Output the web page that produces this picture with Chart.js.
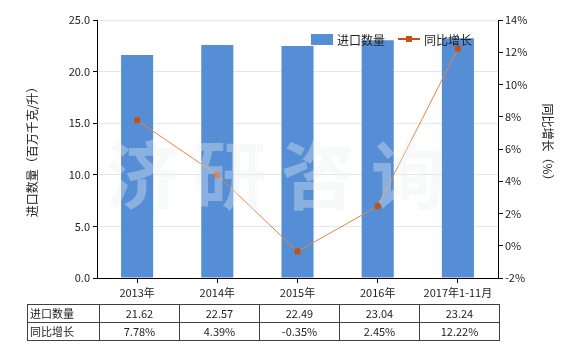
<!DOCTYPE html>
<html>
<head>
<meta charset="utf-8">
<script src="https://cdn.jsdelivr.net/npm/chart.js@4"></script>
<style>
  html, body { margin: 0; padding: 0; background: #fff; }
  #wrap { position: relative; width: 580px; height: 350px; font-family: 'Noto Sans CJK SC', sans-serif; color: #222; }
  #chart { position: absolute; left: 0; top: 0; }
  .legend { position: absolute; top: 31px; font-size: 12px; line-height: 18px; }
  .legend .box { position: absolute; top: 3px; left: 0; width: 22px; height: 11px; background: #558ed5; }
  .legend .ln { position: absolute; top: 7px; left: 0; width: 22px; height: 2px; background: #c5501a; }
  .legend .pt { position: absolute; top: 5px; left: 8px; width: 6px; height: 6px; background: #c5501a; }
  .legend span.t { position: absolute; left: 26px; white-space: nowrap; }
  #tbl { position: absolute; left: 27px; top: 304px; border-collapse: collapse; font-size: 11px; }
  #tbl td { border: 1px solid #404040; height: 17px; padding: 0; text-align: center; width: 79px; line-height: 17px; }
  #tbl td.h { width: 69px; text-align: left; padding-left: 2px; }
</style>
</head>
<body>
<div id="wrap">
  <canvas id="chart" width="580" height="350"></canvas>
  <div class="legend" style="left:311px"><div class="box"></div><span class="t">进口数量</span></div>
  <div class="legend" style="left:398px"><div class="ln"></div><div class="pt"></div><span class="t">同比增长</span></div>
  <table id="tbl"></table>
</div>
<script>
const categories = ['2013年', '2014年', '2015年', '2016年', '2017年1-11月'];
const importQty = [21.62, 22.57, 22.49, 23.04, 23.24];
const yoyGrowth = [7.78, 4.39, -0.35, 2.45, 12.22];
const seriesNames = ['进口数量', '同比增长'];
const leftTitle = '进口数量（百万千克/升）';
const rightTitle = '同比增长（%）';
const watermark = ['济', '研', '咨', '询'];

(() => {
  'use strict';

  const font = "'Noto Sans CJK SC', sans-serif";

  // table under the plot
  const tbl = document.getElementById('tbl');
  let html = '<tr><td class="h">' + seriesNames[0] + '</td>';
  importQty.forEach(v => { html += '<td>' + v.toFixed(2) + '</td>'; });
  html += '</tr><tr><td class="h">' + seriesNames[1] + '</td>';
  yoyGrowth.forEach(v => { html += '<td>' + v.toFixed(2) + '%</td>'; });
  html += '</tr>';
  tbl.innerHTML = html;

  const extras = {
    id: 'extras',
    afterDraw(chart) {
      const ctx = chart.ctx;
      const area = chart.chartArea;
      ctx.save();
      // watermark
      ctx.fillStyle = 'rgba(235,240,240,0.35)';
      ctx.font = 'bold 74px ' + font;
      ctx.textAlign = 'center';
      ctx.textBaseline = 'middle';
      const xs = [143, 230, 318, 408];
      watermark.forEach((ch, i) => ctx.fillText(ch, xs[i], 175));
      // axis titles
      ctx.fillStyle = '#222';
      ctx.font = '12px ' + font;
      ctx.translate(32, (area.top + area.bottom) / 2);
      ctx.rotate(-Math.PI / 2);
      ctx.fillText(leftTitle, 0, 0);
      ctx.restore();
      ctx.save();
      ctx.fillStyle = '#222';
      ctx.font = '12px ' + font;
      ctx.textAlign = 'center';
      ctx.textBaseline = 'middle';
      ctx.translate(548, 145);
      ctx.rotate(Math.PI / 2);
      ctx.fillText(rightTitle, 0, 0);
      ctx.restore();
    }
  };

  Chart.defaults.font.family = font;
  Chart.defaults.font.size = 11;
  Chart.defaults.color = '#222';

  new Chart(document.getElementById('chart').getContext('2d'), {
    data: {
      labels: categories,
      datasets: [
        {
          type: 'line', label: seriesNames[1], data: yoyGrowth, yAxisID: 'y1',
          borderColor: '#e8853d', borderWidth: 1, pointStyle: 'rect', pointRadius: 3.5,
          pointBackgroundColor: '#c5501a', pointBorderColor: '#c5501a', tension: 0
        },
        {
          type: 'bar', label: seriesNames[0], data: importQty, yAxisID: 'y',
          backgroundColor: '#558ed5', categoryPercentage: 1, barPercentage: 0.4
        }
      ]
    },
    options: {
      responsive: false,
      animation: false,
      layout: { padding: { top: 20, left: 0, right: 0, bottom: 0 } },
      plugins: { legend: { display: false }, tooltip: { enabled: false } },
      scales: {
        x: {
          grid: { display: true, drawOnChartArea: false, offset: false, color: '#000', tickLength: 5 },
          border: { color: '#000', width: 1 },
          ticks: { padding: 3, maxRotation: 0, autoSkip: false },
          afterFit: s => { s.height = 72; }
        },
        y: {
          position: 'left', min: 0, max: 25,
          ticks: { stepSize: 5, callback: v => v.toFixed(1), padding: 3 },
          grid: { color: '#e6e6e6', tickColor: '#000', tickLength: 4 },
          border: { color: '#000', width: 1 },
          afterFit: s => { s.width = 97; }
        },
        y1: {
          position: 'right', min: -2, max: 14,
          ticks: { stepSize: 2, callback: v => v + '%', padding: 2 },
          grid: { drawOnChartArea: false, color: '#000', tickLength: 5 },
          border: { color: '#000', width: 1 },
          afterFit: s => { s.width = 82; }
        }
      }
    },
    plugins: [extras]
  });
})();
</script>
</body>
</html>
